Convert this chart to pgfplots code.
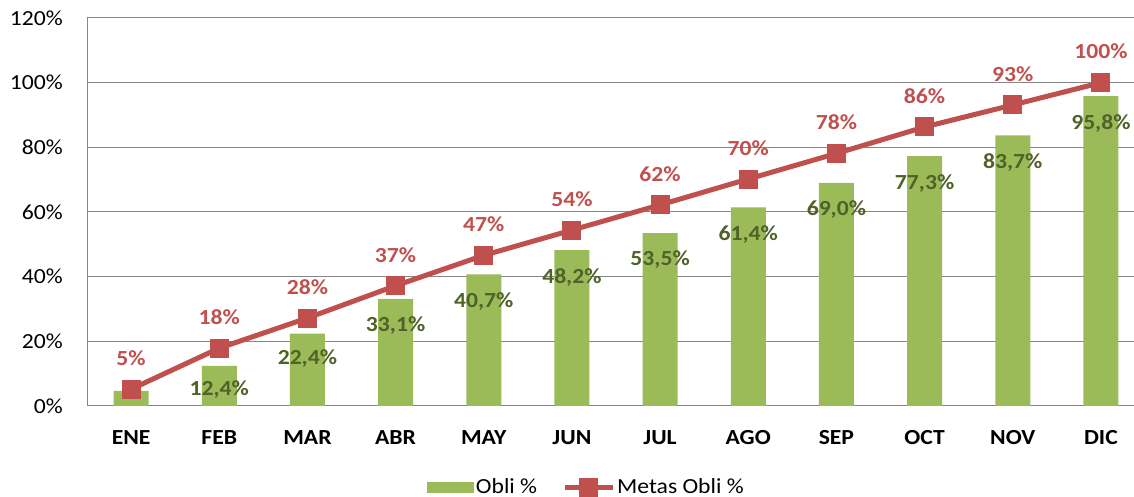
\documentclass[border=0pt]{standalone}
\usepackage{pgfplots}
\pgfplotsset{compat=1.18}
\usepackage{fontspec}
\setmainfont{Carlito}[FakeStretch=1.1]
\definecolor{barg}{HTML}{9BBB59}
\definecolor{linr}{HTML}{C0504D}
\definecolor{labg}{HTML}{4F6228}
\definecolor{gridc}{HTML}{868686}
\newcommand\cfont{\fontsize{21.5}{25}\selectfont}
\begin{document}
\cfont
\begin{tikzpicture}
\begin{axis}[
  at={(87pt,91pt)}, anchor=south west,
  scale only axis, width=1058pt, height=388pt,
  xmin=-0.5, xmax=11.5, ymin=0, ymax=120,
  axis x line*=bottom, axis y line*=left,
  axis line style={gridc, line width=1pt, -},
  major tick length=0pt,
  ymajorgrids, grid style={gridc, line width=1pt},
  ytick={0,20,40,60,80,100,120},
  yticklabels={0\%,20\%,40\%,60\%,80\%,100\%,120\%},
  xtick={0,...,11},
  xticklabels={ENE,FEB,MAR,ABR,MAY,JUN,JUL,AGO,SEP,OCT,NOV,DIC},
  yticklabel style={font=\cfont, anchor=east, inner sep=0pt, xshift=-24pt},
  xticklabel style={font=\cfont\bfseries, anchor=base, inner sep=0pt, yshift=-39pt},
  clip=false,
  legend columns=2,
  legend style={at={(0.472,-0.211)}, anchor=center, draw=none, fill=none,
    font=\cfont,
    nodes={inner sep=2pt},
    /tikz/every even column/.append style={column sep=23pt}},
]
\addplot[ybar, bar width=35pt, fill=barg, draw=none,
  point meta=explicit symbolic,
  nodes near coords,
  every node near coord/.style={anchor=center, yshift=-27pt, text=labg, font=\cfont\bfseries},
  legend image code/.code={\fill[barg] (0pt,-5.5pt) rectangle (47pt,5.5pt);}]
coordinates {
(0,4.7)[{}]
(1,12.4)[\raisebox{10pt}{12,4\%}]
(2,22.4)[\raisebox{6pt}{22,4\%}]
(3,33.1)[33,1\%]
(4,40.7)[40,7\%]
(5,48.2)[48,2\%]
(6,53.5)[53,5\%]
(7,61.4)[61,4\%]
(8,69.0)[69,0\%]
(9,77.3)[77,3\%]
(10,83.7)[83,7\%]
(11,95.8)[95,8\%]
};
\addlegendentry{Obli \%}
\addplot[linr, line width=5pt, mark=square*, mark size=9pt,
  mark options={solid, fill=linr, draw=linr, line width=0pt},
  point meta=explicit symbolic,
  nodes near coords,
  every node near coord/.style={anchor=center, yshift=31pt, text=linr, font=\cfont\bfseries},
  legend image code/.code={\draw[linr, line width=5pt] (0pt,0pt) -- (48pt,0pt);
     \fill[linr] (17pt,-7pt) rectangle (31pt,7pt);}]
coordinates {
(0,5.2)[5\%]
(1,17.9)[18\%]
(2,27.2)[28\%]
(3,37.2)[37\%]
(4,46.6)[47\%]
(5,54.4)[54\%]
(6,62.2)[62\%]
(7,70.2)[70\%]
(8,78.1)[78\%]
(9,86.3)[86\%]
(10,93.1)[93\%]
(11,100)[100\%]
};
\addlegendentry{Metas Obli \%}
\end{axis}
\pgfresetboundingbox
\path[use as bounding box] (0,0) rectangle (1134pt,497pt);
\end{tikzpicture}
\end{document}
